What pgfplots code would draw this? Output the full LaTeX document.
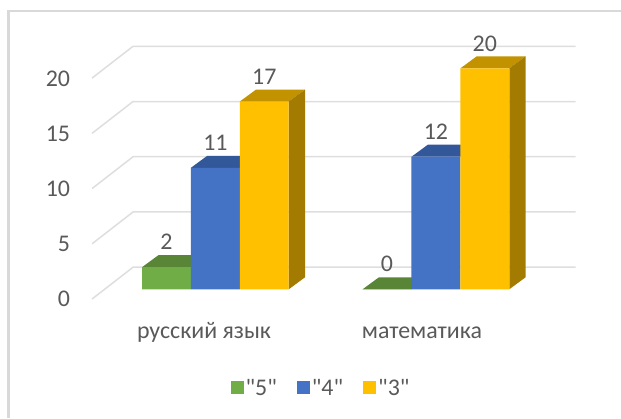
\documentclass[border=0pt]{standalone}
\usepackage{fontspec}
\setmainfont{Carlito}
\newfontfamily\plainfont{Carlito}
\usepackage{pgfplots}
\usepackage{pgfplotstable}
\pgfplotsset{compat=1.18}
\definecolor{Txt}{HTML}{595959}
\definecolor{GridG}{HTML}{DEDEDE}
\definecolor{FrameG}{HTML}{D9D9D9}
\definecolor{Green}{HTML}{70AD47}
\definecolor{GreenTop}{HTML}{588636}
\definecolor{Blue}{HTML}{4472C4}
\definecolor{BlueTop}{HTML}{335899}
\definecolor{Gold}{HTML}{FFC000}
\definecolor{GoldTop}{HTML}{C29200}
\definecolor{GoldSide}{HTML}{A37B00}

\pgfplotstableread{
x five four three
0 2 11 17
1 0 12 20
}\marks

\begin{document}
\begin{tikzpicture}
\begin{axis}[
  scale only axis, width=621bp, height=418bp,
  xmin=-0.9762, xmax=1.8388, ymin=-11.647, ymax=26.18,
  axis line style={draw=none},
  major tick length=0pt,
  /pgf/number format/assume math mode=true,
  ytick={0,5,10,15,20},
  xtick={-0.0514,0.9368},
  xticklabels={русский язык,математика},
  yticklabel style={font=\fontsize{24}{26}\selectfont,text=Txt,anchor=east,xshift=73.5bp,yshift=-10bp},
  xticklabel style={font=\fontsize{24}{26}\selectfont,text=Txt,anchor=center,yshift=85.5bp},
  legend columns=3,
  legend style={draw=none,fill=none,at={(0.517,0.0718)},anchor=center,
    font=\plainfont\fontsize{24}{26}\selectfont,text=Txt,
    /tikz/every even column/.append style={column sep=18bp}},
  legend image code/.code={\fill[#1] (0bp,-6.5bp) rectangle (13bp,6.5bp);},
]
% frame
\addplot[FrameG,line width=2.5bp,forget plot] coordinates {(-0.9377,-11.647) (-0.9377,25.18) (1.8388,25.18)};
% back wall grid
\addplot[GridG,line width=1.5bp,forget plot] coordinates {(-0.5592,-0.88) (-0.3733,2) (1.6335,2)};
\addplot[GridG,line width=1.5bp,forget plot] coordinates {(-0.5592,4.12) (-0.3733,7) (1.6335,7)};
\addplot[GridG,line width=1.5bp,forget plot] coordinates {(-0.5592,9.12) (-0.3733,12) (1.6335,12)};
\addplot[GridG,line width=1.5bp,forget plot] coordinates {(-0.5592,14.12) (-0.3733,17) (1.6335,17)};
\addplot[GridG,line width=1.5bp,forget plot] coordinates {(-0.5592,19.12) (-0.3733,22) (1.6335,22)};

% "5"
\addplot[fill=GreenTop,draw=none,forget plot] coordinates {(-0.33255,2) (-0.25865,3.086) (-0.03695,3.086) (-0.11085,2)} --cycle;
\addplot[fill=GreenTop,draw=none,forget plot] coordinates {(0.66745,0) (0.74135,1.086) (0.96305,1.086) (0.88915,0)} --cycle;
\addplot[ybar,bar width=0.2217,bar shift=-0.2217,fill=Green,draw=none,
  nodes near coords,every node near coord/.append style={font=\fontsize{24}{26}\selectfont,text=Txt,anchor=center,xshift=-48.9bp,yshift=25bp}]
  table[x=x,y=five] {\marks};
\addlegendentry{"5"}

% "4"
\addplot[fill=BlueTop,draw=none,forget plot] coordinates {(-0.11085,11) (-0.03695,12.086) (0.18475,12.086) (0.11085,11)} --cycle;
\addplot[fill=BlueTop,draw=none,forget plot] coordinates {(0.88915,12) (0.96305,13.086) (1.18475,13.086) (1.11085,12)} --cycle;
\addplot[ybar,bar width=0.2217,bar shift=0,fill=Blue,draw=none,
  nodes near coords,every node near coord/.append style={font=\fontsize{24}{26}\selectfont,text=Txt,anchor=center,yshift=25bp}]
  table[x=x,y=four] {\marks};
\addlegendentry{"4"}

% "3"
\addplot[fill=GoldTop,draw=none,forget plot] coordinates {(0.11085,17) (0.18475,18.086) (0.40645,18.086) (0.33255,17)} --cycle;
\addplot[fill=GoldSide,draw=none,forget plot] coordinates {(0.33255,0) (0.40645,1.086) (0.40645,18.086) (0.33255,17)} --cycle;
\addplot[fill=GoldTop,draw=none,forget plot] coordinates {(1.11085,20) (1.18475,21.086) (1.40645,21.086) (1.33255,20)} --cycle;
\addplot[fill=GoldSide,draw=none,forget plot] coordinates {(1.33255,0) (1.40645,1.086) (1.40645,21.086) (1.33255,20)} --cycle;
\addplot[ybar,bar width=0.2217,bar shift=0.2217,fill=Gold,draw=none,
  nodes near coords,every node near coord/.append style={font=\fontsize{24}{26}\selectfont,text=Txt,anchor=center,xshift=48.9bp,yshift=25bp}]
  table[x=x,y=three] {\marks};
\addlegendentry{"3"}
\end{axis}
\end{tikzpicture}
\end{document}
